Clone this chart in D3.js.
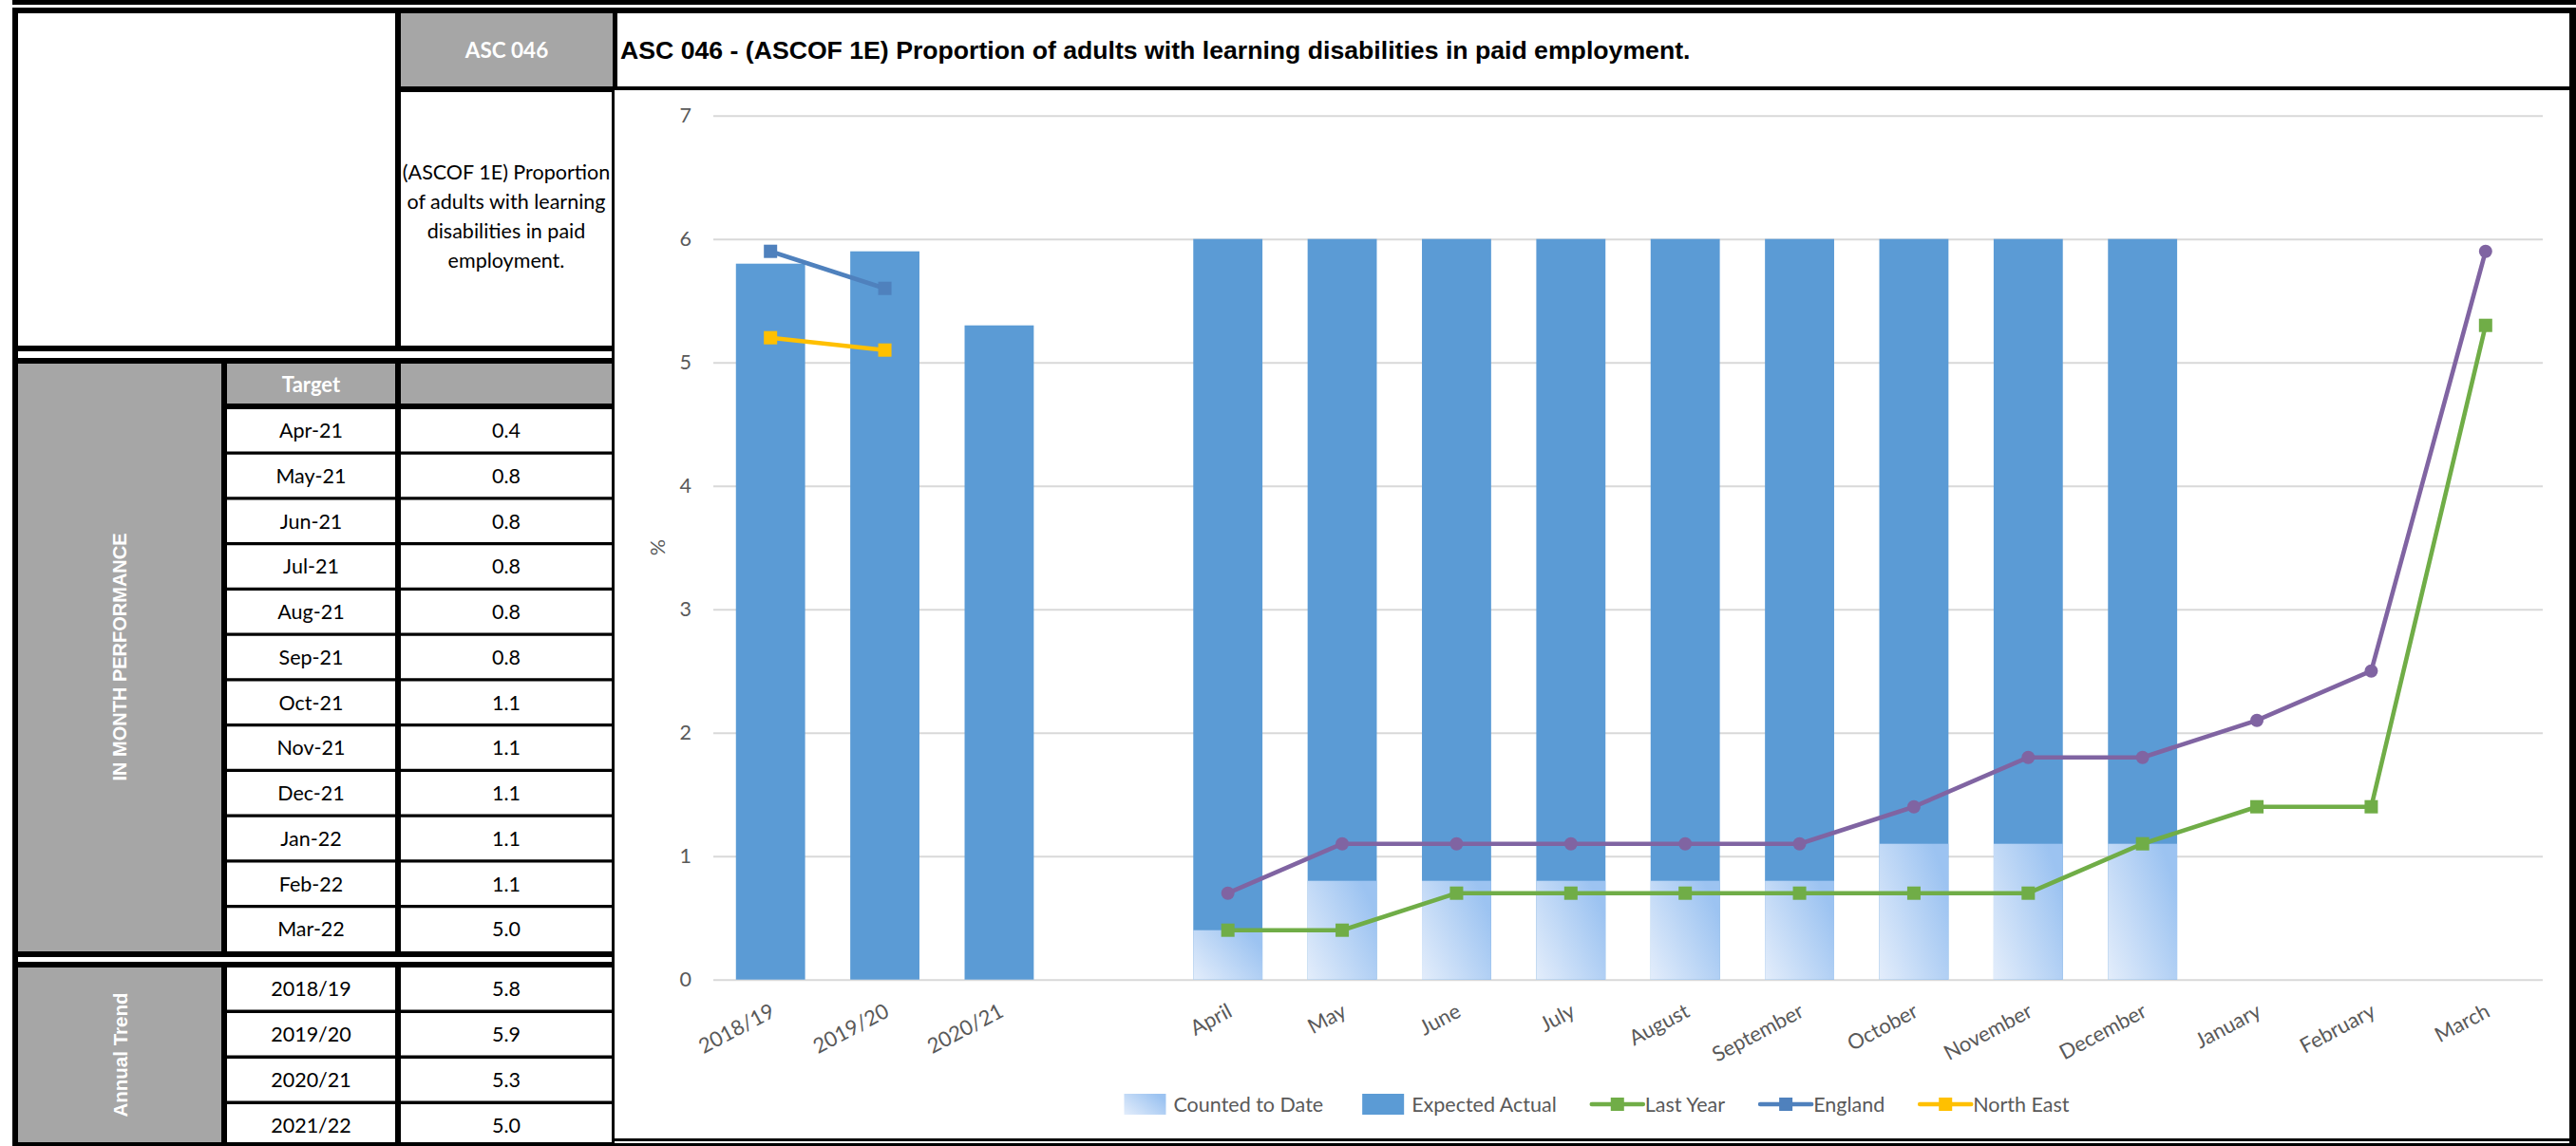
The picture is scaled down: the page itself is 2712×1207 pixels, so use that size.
<!DOCTYPE html>
<html><head><meta charset="utf-8">
<script src="https://cdn.jsdelivr.net/npm/d3@7"></script>
<style>body{margin:0;background:#fff;} svg{display:block;}</style>
</head><body>
<svg id="c" width="2712" height="1207"></svg>
<script>
// ---------------- DATA ----------------
const categories = ["2018/19","2019/20","2020/21","","April","May","June","July","August","September","October","November","December","January","February","March"];
const expectedActual = [5.8,5.9,5.3,null,6,6,6,6,6,6,6,6,6,null,null,null];
const countedToDate  = [null,null,null,null,0.4,0.8,0.8,0.8,0.8,0.8,1.1,1.1,1.1,null,null,null];
const thisYear       = [null,null,null,null,0.7,1.1,1.1,1.1,1.1,1.1,1.4,1.8,1.8,2.1,2.5,5.9];
const lastYear       = [null,null,null,null,0.4,0.4,0.7,0.7,0.7,0.7,0.7,0.7,1.1,1.4,1.4,5.3];
const england        = [5.9,5.6,null,null,null,null,null,null,null,null,null,null,null,null,null,null];
const northEast      = [5.2,5.1,null,null,null,null,null,null,null,null,null,null,null,null,null,null];
const yTicks = [0,1,2,3,4,5,6,7];

const targetMonths = ["Apr-21","May-21","Jun-21","Jul-21","Aug-21","Sep-21","Oct-21","Nov-21","Dec-21","Jan-22","Feb-22","Mar-22"];
const targetValues = ["0.4","0.8","0.8","0.8","0.8","0.8","1.1","1.1","1.1","1.1","1.1","5.0"];
const annualYears  = ["2018/19","2019/20","2020/21","2021/22"];
const annualValues = ["5.8","5.9","5.3","5.0"];

const titleText = "ASC 046 - (ASCOF 1E) Proportion of adults with learning disabilities in paid employment.";
const codeText = "ASC 046";
const descLines = ["(ASCOF 1E) Proportion","of adults with learning","disabilities in paid","employment."];
const legendItems = [
  {name:"Counted to Date", type:"grad"},
  {name:"Expected Actual", type:"bar"},
  {name:"Last Year", type:"line", color:"#70AD47"},
  {name:"England", type:"line", color:"#4F81BD"},
  {name:"North East", type:"line", color:"#FFC000"}
];

// ---------------- LAYOUT ----------------
const W = 2712, H = 1207;
const bodyFont = "Lato, 'Open Sans', sans-serif";
const headFont = "'Liberation Sans', Arial, sans-serif";
const GREY = "#A6A6A6";
const svg = d3.select("#c");

const defs = svg.append("defs");
const grad = defs.append("linearGradient").attr("id","cg")
  .attr("x1","0").attr("y1","1").attr("x2","1").attr("y2","0.35");
grad.append("stop").attr("offset","0").attr("stop-color","#E3EDFB");
grad.append("stop").attr("offset","1").attr("stop-color","#9CC3F1");

function rect(x,y,w,h,fill){ return svg.append("rect").attr("x",x).attr("y",y).attr("width",w).attr("height",h).attr("fill",fill); }

rect(0,0,W,H,"#fff");
rect(13,0,W-13,5,"#000");
rect(13,8,W-13,6,"#000");
rect(13,8,637,H-8,"#000");
rect(2705,8,7,H-8,"#000");
rect(645,91,W-645,4,"#000");
rect(644,1199,W-644,8,"#000");
rect(650,14,2705-650,77,"#fff");
rect(647,95,2705-647,1199-95,"#fff");
rect(647,1202,2705-647,2,"#fff");

rect(19,14,397,350,"#fff");
rect(422,14,223,77,GREY);
rect(422,97,222,267,"#fff");
rect(19,370,625,7,"#fff");
rect(19,383,214,619,GREY);
rect(239,383,177,42,GREY);
rect(422,383,222,42,GREY);
const rowTop = i => 431 + i*47.75;
targetMonths.forEach((m,i)=>{
  const h = i===targetMonths.length-1 ? 1002-rowTop(i) : 44.5;
  rect(239,rowTop(i),177,h,"#fff");
  rect(422,rowTop(i),222,h,"#fff");
});
rect(19,1008,625,5,"#fff");
rect(19,1019,214,184,GREY);
const aTop = i => 1019 + i*48;
annualYears.forEach((m,i)=>{
  const h = i===annualYears.length-1 ? 1203-aTop(i) : 44.5;
  rect(239,aTop(i),177,h,"#fff");
  rect(422,aTop(i),222,h,"#fff");
});

function txt(x,y,s,opts={}){
  return svg.append("text").attr("x",x).attr("y",y).text(s)
    .attr("font-family",opts.font||bodyFont).attr("font-size",opts.size||21.5)
    .attr("font-weight",opts.bold?"bold":"normal").attr("fill",opts.fill||"#000")
    .attr("text-anchor",opts.anchor||"middle").attr("dominant-baseline",opts.base||"central");
}
txt(533.5,52.5,codeText,{bold:true,fill:"#fff",size:22.5});
descLines.forEach((l,i)=>txt(533,189+i*31,l,{base:"auto"}));
txt(327.5,404,"Target",{bold:true,fill:"#fff",size:22});
targetMonths.forEach((m,i)=>{ txt(327.5,rowTop(i)+22,m); txt(533,rowTop(i)+22,targetValues[i]); });
annualYears.forEach((m,i)=>{ txt(327.5,aTop(i)+22,m); txt(533,aTop(i)+22,annualValues[i]); });
txt(126,692,"IN MONTH PERFORMANCE",{font:headFont,bold:true,fill:"#fff",size:20}).attr("transform","rotate(-90,126,692)");
txt(126,1111,"Annual Trend",{font:headFont,bold:true,fill:"#fff",size:20.5}).attr("transform","rotate(-90,126,1111)");

const title = txt(653,53,titleText,{font:headFont,bold:true,size:24,anchor:"start"});
const tl = title.node().getComputedTextLength();
title.attr("font-size", 24*1127/tl);

// ---------------- CHART ----------------
const x = d3.scaleBand().domain(categories).range([751,2677]).paddingInner(0.395).paddingOuter(0.1975);
const y = d3.scaleLinear().domain([0,7]).range([1031.7,121.7]);
const cx = c => x(c) + x.bandwidth()/2;

const yAxis = svg.append("g").attr("transform","translate(751,0)")
  .call(d3.axisLeft(y).tickValues(yTicks).tickSize(-(2677-751)).tickPadding(23).tickFormat(d3.format("d")));
yAxis.select(".domain").remove();
yAxis.selectAll(".tick line").attr("stroke","#D9D9D9").attr("stroke-width",2);
yAxis.selectAll(".tick text").attr("font-family",bodyFont).attr("font-size",21.5).attr("fill","#595959");

txt(692,576.7,"%",{fill:"#595959"}).attr("transform","rotate(-90,692,576.7)");

const barData = categories.map((c,i)=>({c, e:expectedActual[i], t:countedToDate[i]}));
svg.append("g").selectAll("rect").data(barData.filter(d=>d.e!=null)).join("rect")
  .attr("x",d=>x(d.c)).attr("width",x.bandwidth())
  .attr("y",d=>y(d.e)).attr("height",d=>y(0)-y(d.e)).attr("fill","#5B9BD5");
svg.append("g").selectAll("rect").data(barData.filter(d=>d.t!=null)).join("rect")
  .attr("x",d=>x(d.c)).attr("width",x.bandwidth())
  .attr("y",d=>y(d.t)).attr("height",d=>y(0)-y(d.t)).attr("fill","url(#cg)");

const xAxis = svg.append("g").attr("transform",`translate(0,${y(0)})`)
  .call(d3.axisBottom(x).tickSize(0).tickPadding(0));
xAxis.select(".domain").remove();
xAxis.selectAll(".tick text").attr("y",0).attr("dy",0)
  .attr("text-anchor","end").attr("transform","translate(6,38) rotate(-28)")
  .attr("font-family",bodyFont).attr("font-size",22).attr("fill","#595959");

function drawLine(vals,color,marker){
  const pts = categories.map((c,i)=>({c,v:vals[i]})).filter(d=>d.v!=null);
  svg.append("path").datum(pts)
    .attr("d",d3.line().x(d=>cx(d.c)).y(d=>y(d.v)))
    .attr("fill","none").attr("stroke",color).attr("stroke-width",4.6).attr("stroke-linejoin","round");
  const g = svg.append("g");
  if(marker==="circle"){
    g.selectAll("circle").data(pts).join("circle").attr("cx",d=>cx(d.c)).attr("cy",d=>y(d.v))
      .attr("r",7).attr("fill",color);
  } else {
    g.selectAll("rect").data(pts).join("rect").attr("x",d=>cx(d.c)-7).attr("y",d=>y(d.v)-7)
      .attr("width",14).attr("height",14).attr("fill",color);
  }
}
drawLine(thisYear,"#8064A2","circle");
drawLine(lastYear,"#70AD47","square");
drawLine(england,"#4F81BD","square");
drawLine(northEast,"#FFC000","square");

const lg = svg.append("g");
let lx = 0;
const ly = 1163;
legendItems.forEach(it=>{
  const g = lg.append("g").attr("transform",`translate(${lx},0)`);
  if(it.type==="line"){
    g.append("line").attr("x1",0).attr("x2",54).attr("y1",ly).attr("y2",ly).attr("stroke",it.color).attr("stroke-width",4.6).attr("stroke-linecap","round");
    g.append("rect").attr("x",20).attr("y",ly-7).attr("width",14).attr("height",14).attr("fill",it.color);
  } else {
    g.append("rect").attr("x",4).attr("y",ly-11).attr("width",44).attr("height",22).attr("fill",it.type==="grad"?"url(#cg)":"#5B9BD5");
  }
  const t = g.append("text").attr("x",56).attr("y",ly).text(it.name)
    .attr("font-family",bodyFont).attr("font-size",21.5).attr("fill","#595959").attr("dominant-baseline","central");
  lx += 56 + t.node().getComputedTextLength() + 37;
});
const lw = lx - 37;
lg.attr("transform",`translate(${1679 - lw/2},0)`);
</script>
</body></html>
